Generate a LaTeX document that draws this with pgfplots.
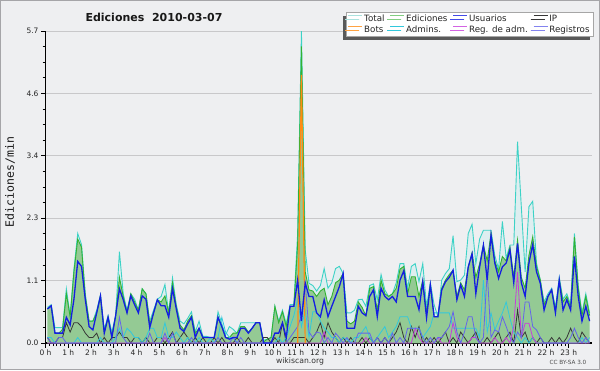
\documentclass[border=0pt]{standalone}
\usepackage{fontspec}
\setmainfont{DejaVu Sans}
\newfontfamily\monofont{DejaVu Sans Mono}
\usepackage{pgfplots}
\usepackage{pgfplotstable}
\pgfplotsset{compat=1.18}
\usetikzlibrary{shadows}

\definecolor{bgc}{RGB}{238,239,241}
\definecolor{bordc}{RGB}{165,165,168}
\definecolor{gridc}{RGB}{200,200,202}
\definecolor{totfill}{RGB}{222,238,240}
\definecolor{totline}{RGB}{60,210,198}
\definecolor{totleg}{RGB}{170,226,222}
\definecolor{edfill}{RGB}{148,202,148}
\definecolor{edline}{RGB}{50,178,50}
\definecolor{edleg}{RGB}{130,206,130}
\definecolor{usc}{RGB}{20,30,225}
\definecolor{ipc}{RGB}{55,55,55}
\definecolor{botc}{RGB}{255,140,20}
\definecolor{adc}{RGB}{50,200,220}
\definecolor{rac}{RGB}{200,60,220}
\definecolor{rec}{RGB}{100,100,235}

\pgfplotstableread{
i T E U IP Ad RA Re
0 0.65 0.62 0.62 0.1 0.1 0 0.1
1 0.7 0.68 0.68 0 0.1 0 0
2 0.28 0.18 0.18 0 0 0 0
3 0.28 0.18 0.18 0.1 0 0 0.1
4 0.28 0.25 0.18 0.1 0 0 0.1
5 0.99 0.9 0.47 0.37 0 0 0
6 0.5 0.48 0.33 0.2 0 0 0
7 1.35 1.3 0.8 0.37 0 0 0
8 2.0 1.9 1.49 0.37 0.1 0 0
9 1.8 1.75 1.4 0.3 0 0 0
10 0.9 0.85 0.79 0.18 0 0 0
11 0.4 0.4 0.3 0.1 0 0 0
12 0.4 0.4 0.24 0.1 0 0 0
13 0.6 0.55 0.55 0.18 0 0 0
14 0.88 0.86 0.86 0 0.1 0 0
15 0.25 0.2 0.18 0.1 0 0 0
16 0.5 0.47 0.47 0 0 0 0
17 0.2 0.12 0.1 0.1 0 0 0
18 0.5 0.5 0.5 0.1 0.1 0 0
19 1.67 1.2 0.99 0.2 0.27 0 0.47
20 0.9 0.85 0.79 0.1 0.1 0 0.1
21 0.6 0.56 0.55 0.1 0.27 0 0
22 0.9 0.9 0.86 0 0.2 0 0
23 0.8 0.75 0.7 0.1 0.1 0 0
24 0.6 0.6 0.55 0.1 0.1 0 0
25 0.99 0.99 0.86 0 0 0 0
26 0.9 0.9 0.8 0.1 0.1 0 0
27 0.4 0.35 0.28 0 0.27 0 0.18
28 0.6 0.55 0.55 0 0.27 0 0
29 0.8 0.79 0.79 0.1 0.1 0 0
30 0.85 0.75 0.68 0.1 0.1 0 0
31 1.07 0.86 0.68 0 0.37 0.1 0.18
32 0.55 0.55 0.47 0.1 0.1 0 0
33 1.19 1.1 0.99 0.2 0.1 0 0.18
34 0.7 0.66 0.62 0 0.2 0 0
35 0.4 0.33 0.27 0.1 0.1 0 0
36 0.35 0.24 0.21 0.2 0 0 0
37 0.45 0.4 0.35 0.1 0.1 0 0
38 0.57 0.5 0.47 0 0 0 0.1
39 0.2 0.18 0.1 0.1 0 0 0
40 0.4 0.27 0.27 0 0.1 0 0
41 0.12 0.1 0.1 0.1 0 0 0
42 0.12 0.1 0.1 0 0 0 0
43 0.1 0.1 0.1 0 0.1 0 0
44 0.1 0.1 0.1 0.1 0 0 0
45 0.57 0.47 0.47 0 0.1 0 0.1
46 0.35 0.3 0.3 0.1 0.47 0 0
47 0.15 0.1 0.1 0 0.2 0 0
48 0.3 0.1 0.07 0 0.1 0 0
49 0.25 0.18 0.1 0 0.1 0 0.1
50 0.18 0.18 0.1 0.1 0 0 0
51 0.37 0.3 0.27 0 0 0 0.1
52 0.37 0.3 0.27 0 0 0 0
53 0.37 0.2 0.18 0.1 0 0 0
54 0.37 0.27 0.27 0 0 0 0
55 0.37 0.37 0.37 0 0 0 0
56 0.37 0.37 0.37 0 0 0 0
57 0.05 0.02 0 0.1 0 0 0
58 0.07 0.07 0 0.1 0 0 0
59 0.1 0.1 0 0 0 0 0
60 0.67 0.67 0.18 0.1 0 0 0
61 0.4 0.37 0.18 0 0.1 0 0
62 0.6 0.57 0.37 0.37 0 0 0
63 0.35 0.3 0.1 0 0.1 0 0
64 0.7 0.67 0.67 0 0.3 0 0.1
65 0.7 0.67 0.67 0.1 0.5 0 0.2
66 2.0 1.8 1.15 0.1 0.8 0 0.3
67 5.7 5.42 0.4 0.1 0.3 0 0.5
68 1.7 1.3 1.1 0.1 0.6 0 1.1
69 1.09 0.97 0.85 0 0.1 0 0.2
70 1.05 0.95 0.85 0.1 0.57 0 0.1
71 0.95 0.85 0.55 0.2 0.57 0 0.2
72 1.05 0.95 0.48 0.37 0.4 0 0.18
73 1.36 1.0 0.79 0.1 0.27 0.2 0
74 1.0 0.7 0.48 0.37 0.2 0 0.1
75 1.1 0.85 0.67 0.2 0.1 0 0
76 1.36 1.1 0.85 0.1 0.1 0 0.18
77 1.4 1.15 1.03 0 0 0 0.1
78 1.27 1.27 1.27 0.1 0.1 0 0
79 0.55 0.4 0.27 0 0.07 0 0.1
80 0.55 0.35 0.27 0.1 0 0 0
81 0.6 0.4 0.27 0 0.1 0 0
82 0.79 0.75 0.67 0 0.1 0 0.18
83 0.8 0.65 0.55 0.1 0.2 0 0.18
84 0.67 0.5 0.5 0 0.3 0.1 0.18
85 1.05 1.0 0.85 0.1 0.1 0 0.18
86 1.08 1.03 0.97 0 0 0 0
87 0.79 0.6 0.48 0.1 0.1 0 0.1
88 1.25 1.15 1.0 0 0.2 0 0
89 0.97 0.9 0.85 0.1 0.3 0 0.1
90 0.85 0.85 0.79 0 0.1 0 0
91 0.9 0.9 0.85 0.1 0.2 0 0.18
92 1.1 1.0 0.75 0.2 0.3 0 0
93 1.45 1.35 1.15 0.37 0.48 0 0.1
94 1.45 1.4 1.32 0.1 0.48 0 0
95 1.0 0.9 0.85 0 0.48 0 0.27
96 1.4 1.21 0.85 0.3 0.27 0 0.27
97 1.45 1.21 0.85 0.1 0.27 0.27 0.27
98 1.12 0.85 0.61 0.3 0.27 0.1 0.27
99 1.45 1.15 1.12 0 0.1 0 0.1
100 0.67 0.55 0.46 0.1 0.2 0 0
101 1.1 1.06 1.06 0 0.3 0 0.1
102 0.7 0.48 0.48 0.1 0.55 0 0
103 0.48 0.48 0.48 0 0.55 0.1 0.1
104 1.15 1.0 0.97 0.1 0.55 0 0.1
105 1.27 1.15 1.12 0.2 0.55 0 0.2
106 1.36 1.25 1.2 0 0.55 0 0.3
107 1.96 1.33 1.33 0.1 0.27 0.37 0.57
108 1.12 0.85 0.79 0 0.27 0.1 0.2
109 1.15 1.1 1.06 0.2 0.27 0 0
110 1.24 0.97 0.85 0.1 0.27 0 0.2
111 2.0 1.39 1.39 0 0.27 0 0.48
112 2.17 1.65 1.63 0.1 0.27 0.1 0.48
113 1.45 1.2 0.9 0.2 0.27 0.1 0.1
114 1.9 1.45 1.39 0 0.1 0 0
115 2.06 1.79 1.79 0 1.15 0 0.1
116 2.06 1.5 1.15 0.1 0.2 0 1.3
117 2.06 2.0 1.97 0 0.55 0 0.1
118 1.6 1.5 1.46 0.1 0.24 0.1 0.24
119 1.35 1.3 1.18 0.2 0.4 0 0.2
120 2.22 1.58 1.39 0 0.55 0 0.48
121 1.55 1.5 1.46 0.1 0.75 0.1 0.3
122 1.79 1.75 1.7 0.2 0.45 0 0.1
123 1.79 1.2 1.1 0 0.2 0.3 0
124 3.68 1.88 1.82 0.6 0.1 1.3 0.2
125 2.49 1.2 1.1 0.1 0 0.1 0.1
126 1.3 1.0 0.85 0.2 0.1 0.36 0.75
127 2.49 1.6 1.46 0 0 0.36 0.75
128 2.59 1.94 1.8 0.1 0.1 0.1 0.3
129 1.46 1.4 1.3 0 0 0 0.24
130 1.15 1.15 1.09 0.1 0 0 0.1
131 0.75 0.7 0.6 0 0 0 0
132 0.9 0.85 0.85 0 0 0 0
133 1.0 0.97 0.97 0.1 0 0 0
134 0.65 0.6 0.55 0 0 0 0
135 1.2 1.15 1.15 0.1 0 0 0
136 0.8 0.75 0.6 0 0 0 0
137 0.9 0.85 0.79 0.1 0 0 0
138 0.7 0.65 0.6 0.27 0 0 0.1
139 2.0 1.94 1.58 0.1 0 0 0.27
140 1.05 1.0 0.85 0 0 0 0.1
141 0.55 0.5 0.4 0.2 0.1 0 0
142 0.9 0.85 0.67 0.1 0 0 0.1
143 0.55 0.5 0.4 0 0.1 0 0
}\data

\begin{document}
\begin{tikzpicture}[x=1pt,y=1pt]
\path[use as bounding box] (0,0) rectangle (600,370);
\fill[bgc] (0,0) rectangle (600,370);
\draw[bordc, line width=1pt] (0.5,0.5) rectangle (599.5,369.5);
\begin{axis}[
  at={(45.5pt,27pt)}, anchor=south west,
  scale only axis, width=546pt, height=312pt,
  xmin=0, xmax=24, ymin=0, ymax=5.7,
  axis x line*=bottom, axis y line*=left,
  axis line style={-},
  x axis line style={line width=1.4pt},
  y axis line style={line width=0.9pt},
  xtick={0,1,...,23},
  xticklabels={0 h,1 h,2 h,3 h,4 h,5 h,6 h,7 h,8 h,9 h,10 h,11 h,12 h,13 h,14 h,15 h,16 h,17 h,18 h,19 h,20 h,21 h,22 h,23 h},
  minor x tick num=5,
  ytick={0,1.14,2.28,3.42,4.56,5.7},
  yticklabels={0.0,1.1,2.3,3.4,4.6,5.7},
  minor y tick num=3,
  tick align=outside,
  major tick length=4.5pt, minor tick length=3pt,
  tick style={black, line width=0.8pt},
  ymajorgrids, major grid style={gridc, line width=0.9pt},
  tick label style={font=\fontsize{7.5}{8}\selectfont, text=black!85},
  xticklabel style={yshift=1pt},
  yticklabel style={xshift=1pt},
  legend columns=4,
  legend cell align=left,
  legend image code/.code={\draw[#1] (0pt,3pt) -- (14pt,3pt);},
  legend style={at={(axis description cs:1.003,1.061)}, anchor=north east,
    draw=black!35, fill=white, line width=0.6pt,
    drop shadow={shadow xshift=-3pt, shadow yshift=-3.5pt, fill=black!65, opacity=1},
    font=\fontsize{8.7}{9}\selectfont, text=black!85,
    inner xsep=2pt, inner ysep=1pt,
    nodes={inner sep=1.3pt, text height=6.5pt, text depth=2pt},
    /tikz/every even column/.append style={column sep=4pt}},
]
\addlegendimage{totleg, line width=1pt}\addlegendentry{Total}
\addlegendimage{edleg, line width=1pt}\addlegendentry{Ediciones}
\addlegendimage{usc!80!white, line width=1pt}\addlegendentry{Usuarios}
\addlegendimage{ipc, line width=1pt}\addlegendentry{IP}
\addlegendimage{botc!80!white, line width=1pt}\addlegendentry{Bots}
\addlegendimage{adc, line width=1pt}\addlegendentry{Admins.}
\addlegendimage{rac!80!white, line width=1pt}\addlegendentry{Reg. de adm.}
\addlegendimage{rec!80!white, line width=1pt}\addlegendentry{Registros}

\addplot[draw=none, fill=totfill, forget plot] table[x expr=(\thisrow{i}+0.5)/6, y=T]{\data} \closedcycle;
\addplot[draw=none, fill=edfill, forget plot] table[x expr=(\thisrow{i}+0.5)/6, y=E]{\data} \closedcycle;
\addplot[totline, line width=0.9pt, forget plot] table[x expr=(\thisrow{i}+0.5)/6, y=T]{\data};
\addplot[edline, line width=0.9pt, forget plot] table[x expr=(\thisrow{i}+0.5)/6, y=E]{\data};
\addplot[ipc, line width=0.8pt, forget plot] table[x expr=(\thisrow{i}+0.5)/6, y=IP]{\data};
\addplot[adc, line width=0.8pt, forget plot] table[x expr=(\thisrow{i}+0.5)/6, y=Ad]{\data};
\addplot[rac, line width=0.8pt, forget plot] table[x expr=(\thisrow{i}+0.5)/6, y=RA]{\data};
\addplot[rec, line width=0.8pt, forget plot] table[x expr=(\thisrow{i}+0.5)/6, y=Re]{\data};
\addplot[botc, line width=1.2pt, forget plot] coordinates {(11.0833,0) (11.25,4.9) (11.4167,0)};
\addplot[usc, line width=1.3pt, forget plot] table[x expr=(\thisrow{i}+0.5)/6, y=U]{\data};
\end{axis}
\node[font=\bfseries\fontsize{11}{13}\selectfont, text=black!90] at (154,353) {Ediciones\hspace{0.7em}2010-03-07};
\node[rotate=90, font=\monofont\fontsize{11.5}{12}\selectfont, text=black!90] at (10,188) {Ediciones/min};
\node[font=\fontsize{7.7}{9}\selectfont, text=black!80] at (300,9) {wikiscan.org};
\node[font=\fontsize{5.7}{7}\selectfont, text=black!70] at (568,8) {CC BY-SA 3.0};
\end{tikzpicture}
\end{document}
